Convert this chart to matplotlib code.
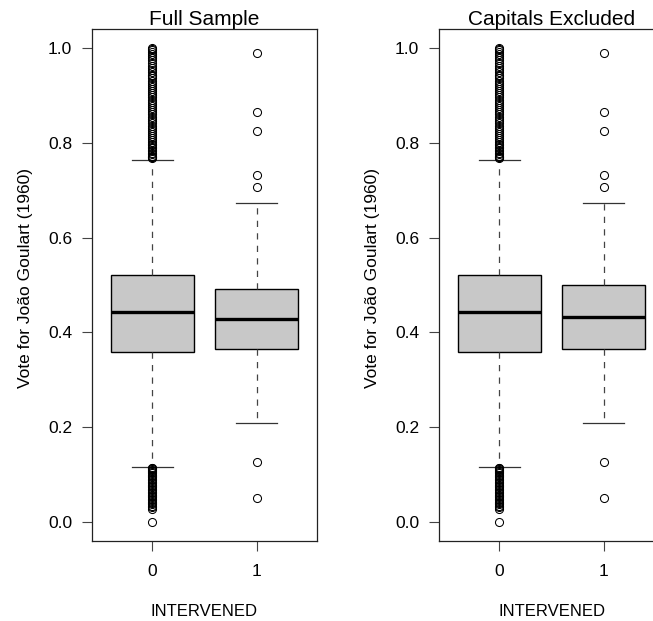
import matplotlib
matplotlib.use("Agg")
import matplotlib.pyplot as plt

plt.rcParams['font.family'] = ['Liberation Sans', 'DejaVu Sans']

panel_titles = ["Full Sample", "Capitals Excluded"]
categories = ["0", "1"]
x_label = "INTERVENED"
y_label = "Vote for João Goulart (1960)"
y_ticks = [0.0, 0.2, 0.4, 0.6, 0.8, 1.0]

# box statistics per panel: [group 0, group 1]
q1 = [[0.359, 0.364], [0.359, 0.364]]
median = [[0.443, 0.429], [0.443, 0.432]]
q3 = [[0.521, 0.492], [0.521, 0.500]]
whisker_low = [[0.117, 0.208], [0.117, 0.208]]
whisker_high = [[0.763, 0.672], [0.763, 0.672]]

outliers_g0 = [1.000, 0.998, 0.995, 0.991, 0.987, 0.982, 0.978, 0.975, 0.969,
               0.962, 0.958, 0.953, 0.949, 0.944, 0.940, 0.936, 0.931, 0.927,
               0.922, 0.918, 0.913, 0.909, 0.905, 0.900, 0.896, 0.891, 0.887,
               0.882, 0.878, 0.873, 0.869, 0.864, 0.860, 0.855, 0.851, 0.846,
               0.842, 0.836, 0.831, 0.827, 0.823, 0.818, 0.814, 0.810, 0.806,
               0.802, 0.798, 0.795, 0.791, 0.788, 0.785, 0.782, 0.779, 0.776,
               0.773, 0.771, 0.769, 0.767,
               0.115, 0.113, 0.111, 0.109, 0.107, 0.105, 0.103, 0.100, 0.097,
               0.094, 0.091, 0.088, 0.085, 0.082, 0.079, 0.076, 0.073, 0.070,
               0.067, 0.064, 0.061, 0.058, 0.055, 0.052, 0.049, 0.046, 0.043,
               0.040, 0.037, 0.034, 0.031, 0.028, 0.000]
outliers_g1 = [0.989, 0.864, 0.825, 0.732, 0.707, 0.126, 0.050]

W, H = 653, 621
fig = plt.figure(figsize=(W / 100, H / 100), dpi=100)

axes_px = [(92, 29, 225, 512), (439, 29, 225, 512)]

for p in range(2):
    x0, y0, w, h = axes_px[p]
    ax = fig.add_axes([x0 / W, 1 - (y0 + h) / H, w / W, h / H])
    stats = []
    for g in range(2):
        stats.append(dict(med=median[p][g], q1=q1[p][g], q3=q3[p][g],
                          whislo=whisker_low[p][g], whishi=whisker_high[p][g],
                          fliers=outliers_g0 if g == 0 else outliers_g1,
                          label=categories[g]))
    ax.bxp(stats, positions=[0, 1], widths=0.8, patch_artist=True,
           showfliers=True,
           boxprops=dict(facecolor='#C8C8C8', edgecolor='black', linewidth=1.0),
           medianprops=dict(color='black', linewidth=2.4, solid_capstyle='butt'),
           whiskerprops=dict(color='#444444', linewidth=0.9, linestyle=(0, (5, 5))),
           capprops=dict(color='#333333', linewidth=0.9),
           capwidths=0.4,
           flierprops=dict(marker='o', markersize=5.8, markerfacecolor='none',
                           markeredgecolor='black', markeredgewidth=0.75,
                           linestyle='none'))
    ax.set_xlim(-0.58, 1.58)
    ax.set_ylim(-0.04, 1.04)
    ax.set_yticks(y_ticks)
    ax.set_yticklabels([f"{v:.1f}" for v in y_ticks])
    ax.set_xticks([0, 1])
    ax.set_xticklabels(categories)
    ax.tick_params(axis='both', direction='out', length=7.2, width=0.8,
                   color='#444444', labelsize=12.5)
    ax.tick_params(axis='y', pad=7)
    ax.tick_params(axis='x', pad=9)
    for s in ax.spines.values():
        s.set_linewidth(0.9)
        s.set_color('#222222')
    ax.set_title(panel_titles[p], fontsize=15, pad=3)
    ax.set_xlabel(x_label, fontsize=12, labelpad=18)
    ax.set_ylabel(y_label, fontsize=12.5, labelpad=11, y=0.514)

fig.savefig("out.png", dpi=100)
